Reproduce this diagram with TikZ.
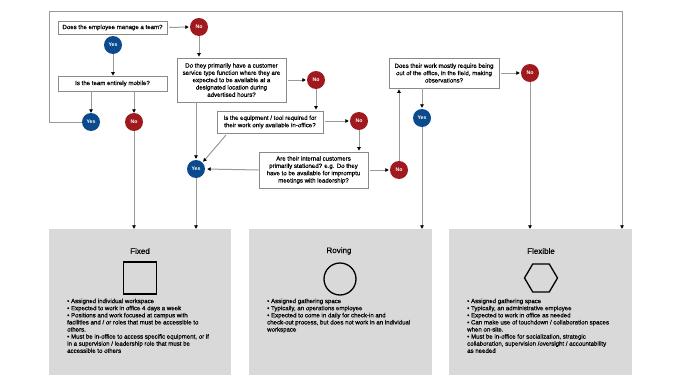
\documentclass[tikz,border=0pt]{standalone}
\usepackage{fontspec}
\setmainfont{Liberation Sans}
\newfontfamily\heavysans[FakeBold=0.4]{Liberation Sans}
\usetikzlibrary{arrows.meta,shapes.geometric}
\definecolor{noRed}{HTML}{A0191E}
\definecolor{yesBlue}{HTML}{0C4A8E}
\definecolor{lineGray}{HTML}{9A9A9A}
\definecolor{boxGray}{HTML}{8A8A8A}
\definecolor{panelGray}{HTML}{D9D9D9}
\tikzset{
  qbox/.style={draw=boxGray, line width=0.8pt, fill=white, align=center, inner sep=0pt,
    font=\heavysans\fontsize{6.1}{7.3}\selectfont},
  nocirc/.style={circle, fill=noRed, minimum size=18pt, inner sep=0pt, text=white,
    font=\fontsize{5.2}{6}\selectfont\bfseries},
  yescirc/.style={circle, fill=yesBlue, minimum size=18pt, inner sep=0pt, text=white,
    font=\fontsize{5.2}{6}\selectfont\bfseries},
  panel/.style={fill=panelGray, draw=none, inner sep=0pt},
  conn/.style={draw=lineGray, line width=1pt, -{Triangle[length=3.5pt,width=3.5pt,black]}},
  plain/.style={draw=lineGray, line width=1pt},
  ptitle/.style={font=\heavysans\fontsize{8}{9}\selectfont},
  ptext/.style={anchor=north west, align=left, inner sep=0pt, font=\heavysans\fontsize{6.1}{7.1}\selectfont},
}
\begin{document}
\begin{tikzpicture}[x=1pt,y=-1pt]
\useasboundingbox (0,0) rectangle (681,383);
% panels
\node[panel, minimum width=182pt, minimum height=146pt] (fixed) at (140,302) {};
\node[panel, minimum width=183pt, minimum height=146pt] (roving) at (340.5,302) {};
\node[panel, minimum width=183pt, minimum height=146pt] (flex) at (540.5,302) {};
% questions
\node[qbox, minimum width=109pt, minimum height=13pt] (q1) at (112.5,27.5) {Does the employee manage a team?};
\node[qbox, minimum width=109pt, minimum height=15pt] (q2) at (112.5,83.5) {Is the team entirely mobile?};
\node[qbox, minimum width=109pt, minimum height=44pt] (q3) at (231.5,80) {Do they primarily have a customer\\service type function where they are\\expected to be available at a\\designated location during\\advertised hours?};
\node[qbox, minimum width=106pt, minimum height=22pt] (q4) at (270,122) {Is the equipment / tool required for\\their work only available in-office?};
\node[qbox, minimum width=109pt, minimum height=36pt] (q5) at (313.5,170) {Are their internal customers\\primarily stationed? e.g. Do they\\have to be available for impromptu\\meetings with leadership?};
\node[qbox, minimum width=110pt, minimum height=30pt] (q6) at (444,73) {Does their work mostly require being\\out of the office, in the field, making\\observations?};
% answers
\node[nocirc] (no1) at (199,27) {No};
\node[yescirc] (yes1) at (113,45) {Yes};
\node[yescirc] (yes2) at (91,122) {Yes};
\node[nocirc] (no2) at (134,122) {No};
\node[nocirc] (no3) at (316,80) {No};
\node[nocirc] (no4) at (359,121) {No};
\node[yescirc] (yes3) at (196,169) {Yes};
\node[nocirc] (no5) at (399,170) {No};
\node[nocirc] (no6) at (530,73) {No};
\node[yescirc] (yes4) at (422,118) {Yes};
% frame coordinates
\coordinate (f1) at (49,122);
\coordinate (f2) at (49,11);
\coordinate (f3) at (622,11);
\coordinate (fq4) at (226,135);
% connectors
\draw[conn, shorten <=2pt, shorten >=1pt] (q1.east) -- (no1.west);
\draw[conn] (yes1.south) -- (q2.north -| yes1);
\draw[conn] (q2.south -| yes2) -- (yes2.north);
\draw[conn] (q2.south -| no2) -- (no2.north);
\draw[plain] (yes2.west) -- (f1) -- (f2) -- (f3);
\draw[conn] (f3) -- (f3 |- flex.north);
\draw[conn] (no2.south) -- (no2 |- fixed.north);
\draw[conn, shorten >=1pt] (no1.south) -- (no1 |- q3.north);
\draw[conn, shorten <=2pt, shorten >=1pt] (q3.east) -- (no3.west);
\draw[conn, shorten >=1pt] (no3.south) -- (no3 |- q4.north);
\draw[conn, shorten <=2pt, shorten >=1pt] (q4.east |- no4) -- (no4.west);
\draw[conn, shorten >=1pt] (no4.south) -- (no4 |- q5.north);
\draw[conn, shorten <=2pt, shorten >=1pt] (q5.east) -- (no5.west);
\draw[conn, shorten >=2pt] (q5.west) -- (yes3.east);
\draw[conn, shorten >=1pt] (q3.south -| yes3) -- (yes3.north);
\draw[conn, shorten >=1pt] (fq4) -- (yes3.north east);
\draw[conn] (yes3.south) -- (yes3 |- fixed.north);
\draw[conn, shorten >=1pt] (no5.north) -- (no5 |- q6.south);
\draw[conn, shorten <=2pt, shorten >=1pt] (q6.east) -- (no6.west);
\draw[conn, shorten >=1pt] (q6.south -| yes4) -- (yes4.north);
\draw[conn] (yes4.south) -- (yes4 |- roving.north);
\draw[conn] (no6.south) -- (no6 |- flex.north);
% panel contents
\node[ptitle] (t1) at (140,251) {Fixed};
\node[draw=black, line width=1.3pt, minimum width=33pt, minimum height=32pt, inner sep=0pt] (sq) at (140,278) {};
\node[ptext] (b1) at (67,298.5) {• Assigned individual workspace\\• Expected to work in office 4 days a week\\• Positions and work focused at campus with\\facilities and / or roles that must be accessible to\\others.\\• Must be in-office to access specific equipment, or if\\in a supervision / leadership role that must be\\accessible to others};
\node[ptitle] (t2) at (339,251) {Roving};
\node[draw=black, line width=1.3pt, circle, minimum size=32pt, inner sep=0pt] (ci) at (340,279) {};
\node[ptext] (b2) at (267,298.5) {• Assigned gathering space\\• Typically, an operations employee\\• Expected to come in daily for check-in and\\check-out process, but does not work in an individual\\workspace};
\node[ptitle] (t3) at (541,251) {Flexible};
\draw[black, line width=1.3pt] (524.5,278) -- (532.75,264) -- (549.25,264) -- (557.5,278) -- (549.25,292) -- (532.75,292) -- cycle;
\node[ptext] (b3) at (467,298.5) {• Assigned gathering space\\• Typically, an administrative employee\\• Expected to work in office as needed\\• Can make use of touchdown / collaboration spaces\\when on-site.\\• Must be in-office for socialization, strategic\\collaboration, supervision /oversight / accountability\\as needed};
\end{tikzpicture}
\end{document}
